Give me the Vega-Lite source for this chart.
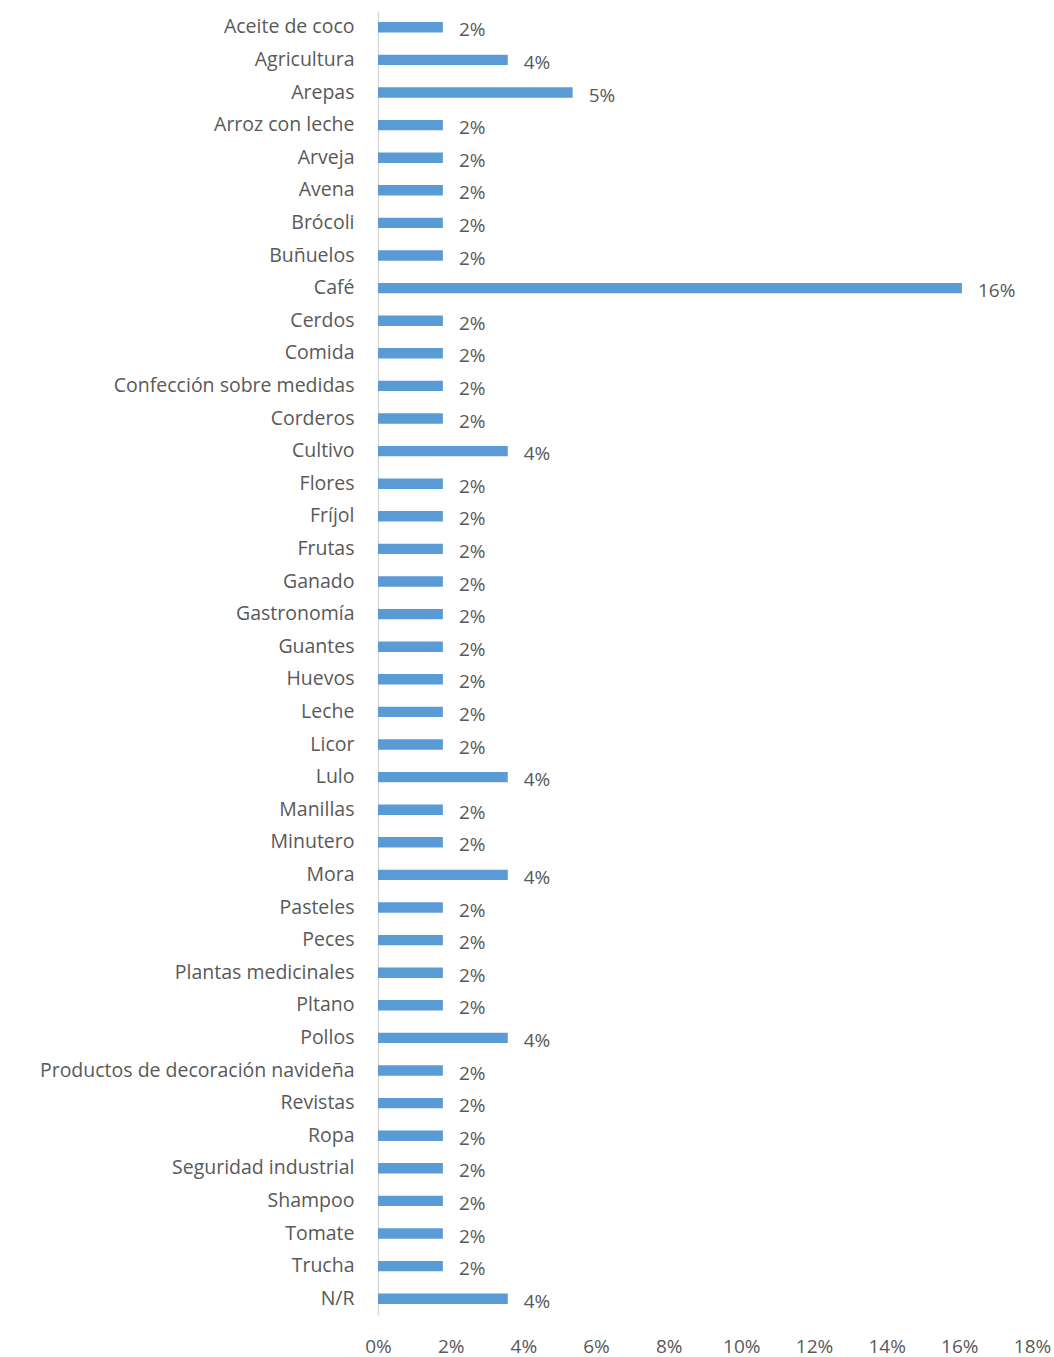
{
  "$schema": "https://vega.github.io/schema/vega-lite/v6.json",
  "width": 654,
  "height": 1304,
  "autosize": "none",
  "padding": {"left": 378, "top": 11, "right": 22, "bottom": 42},
  "background": "white",
  "config": {"view": {"stroke": null}, "font": "Open Sans"},
  "data": {"values": [
    {"cat": "Aceite de coco", "v": 0.017857},
    {"cat": "Agricultura", "v": 0.035714},
    {"cat": "Arepas", "v": 0.053571},
    {"cat": "Arroz con leche", "v": 0.017857},
    {"cat": "Arveja", "v": 0.017857},
    {"cat": "Avena", "v": 0.017857},
    {"cat": "Brócoli", "v": 0.017857},
    {"cat": "Buñuelos", "v": 0.017857},
    {"cat": "Café", "v": 0.160714},
    {"cat": "Cerdos", "v": 0.017857},
    {"cat": "Comida", "v": 0.017857},
    {"cat": "Confección sobre medidas", "v": 0.017857},
    {"cat": "Corderos", "v": 0.017857},
    {"cat": "Cultivo", "v": 0.035714},
    {"cat": "Flores", "v": 0.017857},
    {"cat": "Fríjol", "v": 0.017857},
    {"cat": "Frutas", "v": 0.017857},
    {"cat": "Ganado", "v": 0.017857},
    {"cat": "Gastronomía", "v": 0.017857},
    {"cat": "Guantes", "v": 0.017857},
    {"cat": "Huevos", "v": 0.017857},
    {"cat": "Leche", "v": 0.017857},
    {"cat": "Licor", "v": 0.017857},
    {"cat": "Lulo", "v": 0.035714},
    {"cat": "Manillas", "v": 0.017857},
    {"cat": "Minutero", "v": 0.017857},
    {"cat": "Mora", "v": 0.035714},
    {"cat": "Pasteles", "v": 0.017857},
    {"cat": "Peces", "v": 0.017857},
    {"cat": "Plantas medicinales", "v": 0.017857},
    {"cat": "Pltano", "v": 0.017857},
    {"cat": "Pollos", "v": 0.035714},
    {"cat": "Productos de decoración navideña", "v": 0.017857},
    {"cat": "Revistas", "v": 0.017857},
    {"cat": "Ropa", "v": 0.017857},
    {"cat": "Seguridad industrial", "v": 0.017857},
    {"cat": "Shampoo", "v": 0.017857},
    {"cat": "Tomate", "v": 0.017857},
    {"cat": "Trucha", "v": 0.017857},
    {"cat": "N/R", "v": 0.035714}
  ]},
  "encoding": {
    "y": {
      "field": "cat", "type": "nominal", "sort": null,
      "scale": {"paddingInner": 0.68, "paddingOuter": 0.34},
      "axis": {"title": null, "ticks": false, "domainColor": "#d9d9d9", "domainWidth": 1.5,
               "labelFontSize": 19.5, "labelColor": "#595959", "labelPadding": 24, "labelFont": "Open Sans", "labelLimit": 400}
    },
    "x": {
      "field": "v", "type": "quantitative",
      "scale": {"domain": [0, 0.18], "nice": false},
      "axis": {"title": null, "format": ".0%", "values": [0,0.02,0.04,0.06,0.08,0.1,0.12,0.14,0.16,0.18],
               "grid": false, "domain": false, "ticks": false, "labelFontSize": 19, "labelColor": "#595959",
               "labelPadding": 22, "labelFont": "Open Sans", "labelFlush": false}
    }
  },
  "layer": [
    {"mark": {"type": "bar", "color": "#5b9bd5"}},
    {"mark": {"type": "text", "align": "left", "dx": 16, "dy": 3, "fontSize": 19, "color": "#595959", "font": "Open Sans"},
     "encoding": {"text": {"field": "v", "type": "quantitative", "format": ".0%"}}}
  ]
}
